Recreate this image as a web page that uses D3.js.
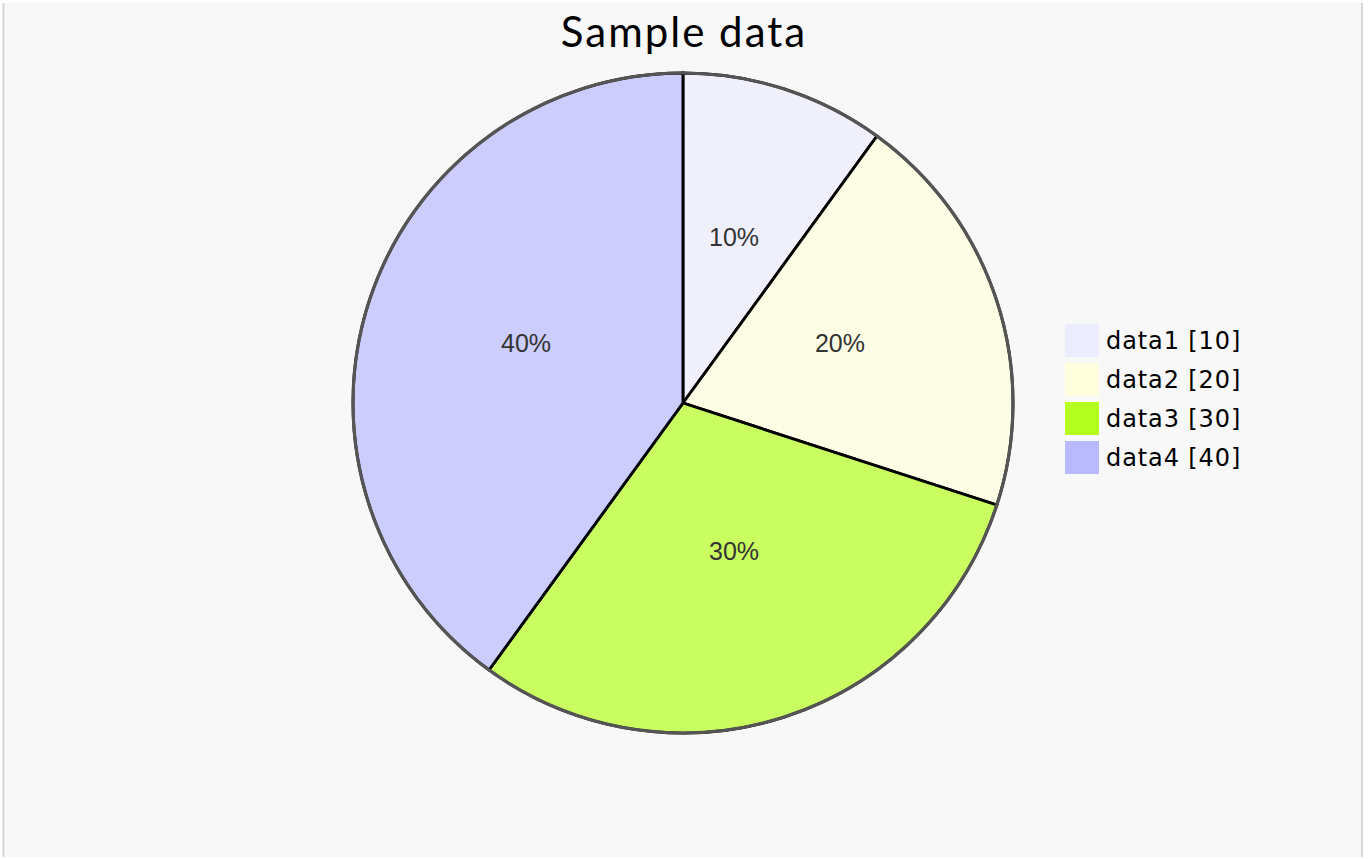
<!DOCTYPE html>
<html>
<head>
<meta charset="utf-8">
<script src="https://cdn.jsdelivr.net/npm/d3@7.9.0/dist/d3.min.js"></script>
<style>
  body { margin: 0; background: #fff; }
  svg { display: block; }
</style>
</head>
<body>
<svg id="chart" width="1369" height="859"></svg>
<script>
// chart data
const labels = ['data1', 'data2', 'data3', 'data4'];
const values = [10, 20, 30, 40];
const colors = ['#ECECFF', '#ffffde', '#b5ff20', '#b9b9ff'];
const title = 'Sample data';

const W = 1369, H = 859;
const cx = 683, cy = 403, radius = 330;

const svg = d3.select('#chart');

// background panel with side borders
svg.append('rect')
  .attr('x', 3).attr('y', 3)
  .attr('width', W - 9).attr('height', H - 5)
  .attr('fill', '#f8f8f8');
svg.append('line')
  .attr('x1', 3.5).attr('x2', 3.5).attr('y1', 3).attr('y2', H - 2)
  .attr('stroke', '#d6d6d6').attr('stroke-width', 2);
svg.append('line')
  .attr('x1', W - 7).attr('x2', W - 7).attr('y1', 3).attr('y2', H - 2)
  .attr('stroke', '#d6d6d6').attr('stroke-width', 2);

const total = d3.sum(values);
const data = labels.map((l, i) => ({ label: l, value: values[i], color: colors[i] }));

const pie = d3.pie().sort(null).value(d => d.value);
const arcs = pie(data);
const arc = d3.arc().innerRadius(0).outerRadius(radius);

const g = svg.append('g').attr('transform', `translate(${cx},${cy})`);

g.selectAll('path.slice')
  .data(arcs)
  .enter()
  .append('path')
  .attr('class', 'slice')
  .attr('d', arc)
  .attr('fill', d => d.data.color)
  .attr('fill-opacity', 0.7)
  .attr('stroke', '#000')
  .attr('stroke-width', 2.8);

// outer ring drawn on top, grey
g.append('circle')
  .attr('r', radius)
  .attr('fill', 'none')
  .attr('stroke', '#555')
  .attr('stroke-width', 3.2);

g.selectAll('text.pct')
  .data(arcs)
  .enter()
  .append('text')
  .attr('class', 'pct')
  .attr('transform', d => `translate(${arc.centroid(d)})`)
  .attr('text-anchor', 'middle')
  .attr('font-family', '"Liberation Sans", Arial, sans-serif')
  .attr('font-size', 25)
  .attr('fill', '#333')
  .text(d => Math.round(d.value / total * 100) + '%');

// title
svg.append('text')
  .attr('x', cx + 1).attr('y', 47)
  .attr('text-anchor', 'middle')
  .attr('font-family', '"Trebuchet MS", Lato, sans-serif')
  .attr('font-size', 42)
  .attr('letter-spacing', 2)
  .attr('fill', '#000')
  .text(title);

// legend
const legend = svg.append('g').attr('transform', 'translate(1065,324)');
const rows = legend.selectAll('g.item')
  .data(data)
  .enter()
  .append('g')
  .attr('class', 'item')
  .attr('transform', (d, i) => `translate(0,${i * 39})`);

rows.append('rect')
  .attr('width', 34).attr('height', 33)
  .attr('fill', d => d.color);

rows.append('text')
  .attr('x', 41).attr('y', 25)
  .attr('font-family', '"DejaVu Sans", sans-serif')
  .attr('font-size', 24)
  .attr('letter-spacing', 0.9)
  .attr('fill', '#000')
  .text(d => `${d.label} [${d.value}]`);
</script>
</body>
</html>
